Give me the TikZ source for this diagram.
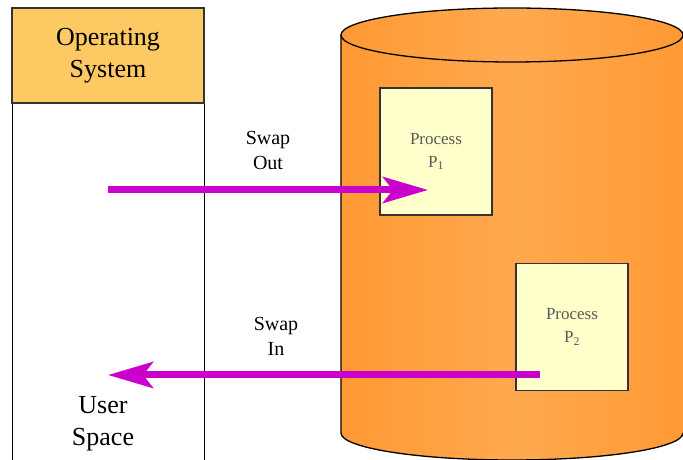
\documentclass[tikz,border=0pt]{standalone}
\usepackage{fontspec}
\setmainfont{Liberation Serif}
\usetikzlibrary{arrows.meta}
\definecolor{osyellow}{HTML}{FDC962}
\definecolor{diskorange}{HTML}{FF9933}
\definecolor{disklight}{HTML}{FFA94F}
\definecolor{procfill}{HTML}{FFFFCC}
\definecolor{swapline}{HTML}{CC00CC}

\begin{document}
\begin{tikzpicture}[x=1pt,y=1pt]
  \tikzstyle{process}=[draw=black!80,line width=1.2pt,fill=procfill,minimum width=112pt,minimum height=127pt,inner sep=0pt,align=center,text=black!65,font=\fontsize{17}{23}\selectfont]
  \tikzstyle{swaptext}=[align=center,font=\fontsize{20}{25}\selectfont]
  \tikzstyle{ostext}=[align=center,font=\fontsize{26}{32}\selectfont]
  \tikzstyle{swap}=[draw=swapline,line width=7pt,-{Stealth[length=45pt,width=26pt,inset=10pt]}]
  \useasboundingbox (0,0) rectangle (683,460);
  \begin{scope}
  \clip (0,0) rectangle (683,460);
  % memory column
  \draw[fill=white] (12,-10) rectangle (204,357);
  \node[ostext,draw=black!80,line width=1.5pt,fill=osyellow,minimum width=192pt,minimum height=95pt,inner sep=0pt] (os) at (108,404.5) {Operating\\System};
  \node[ostext] (user) at (103,36) {User\\Space};
  % disk
  \shade[left color=diskorange,right color=diskorange,middle color=disklight] (341,425) -- (341,27) arc (180:360:171 and 27) -- (690,425) -- cycle;
  \draw[line width=1.3pt] (341,425) -- (341,27) arc (180:360:171 and 27);
  \shade[left color=diskorange,right color=diskorange,middle color=disklight] (512,425) ellipse (171 and 27);
  \draw[line width=1.3pt] (512,425) ellipse (171 and 27);
  \node[process] (p1) at (436,308.5) {Process\\P\textsubscript{1}};
  \node[process] (p2) at (572,133) {Process\\P\textsubscript{2}};
  % swapping
  \coordinate (outstart) at (108,270);
  \coordinate (outend) at (428,270);
  \coordinate (instart) at (540,85);
  \coordinate (inend) at (108,85);
  \draw[swap] (outstart) -- (outend);
  \draw[swap] (instart) -- (inend);
  \node[swaptext] (swapout) at (268,309.5) {Swap\\Out};
  \node[swaptext] (swapin) at (276,124) {Swap\\In};
  \end{scope}
\end{tikzpicture}
\end{document}
